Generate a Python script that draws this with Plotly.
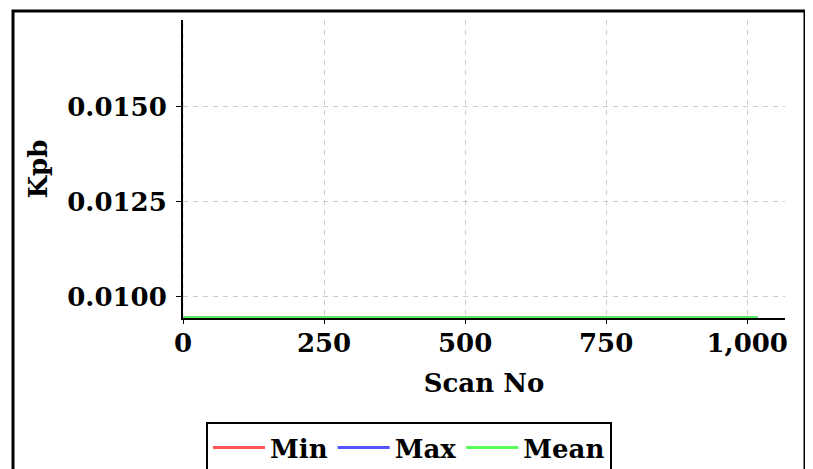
import plotly.graph_objects as go

scan_no = [0, 1018]
kpb_min = [0.00945, 0.00945]
kpb_max = [0.00945, 0.00945]
kpb_mean = [0.00945, 0.00945]

FONT = "DejaVu Serif"
FS = 26
W, H = 805, 461
L, R, T, B = 175, 28, 12, 151
pw, ph = W - L - R, H - T - B
GRID = "#cccccc"
DASH = "5px,5px"

def px(fx):
    return (fx - L) / pw

def py(fy):
    return (H - B - fy) / ph

fig = go.Figure()
fig.add_trace(go.Scatter(x=scan_no, y=kpb_min, mode="lines", name="Min",
                         line=dict(color="rgb(255,85,85)", width=3)))
fig.add_trace(go.Scatter(x=scan_no, y=kpb_max, mode="lines", name="Max",
                         line=dict(color="rgb(85,85,255)", width=3)))
fig.add_trace(go.Scatter(x=scan_no, y=kpb_mean, mode="lines", name="Mean",
                         line=dict(color="rgb(85,255,85)", width=3)))

fig.add_shape(type="rect", xref="paper", yref="paper",
              x0=px(5), x1=px(797), y0=py(3), y1=py(520),
              line=dict(color="black", width=3), fillcolor="rgba(0,0,0,0)")
# the x=0 gridline drawn over the y axis line
fig.add_shape(type="line", xref="x", yref="paper", x0=0, x1=0, y0=0, y1=1,
              line=dict(color=GRID, width=1, dash=DASH), layer="above")

fig.update_layout(
    width=W, height=H,
    margin=dict(l=L, r=R, t=T, b=B, autoexpand=False),
    paper_bgcolor="white", plot_bgcolor="white",
    font=dict(family=FONT, size=FS, color="black"),
    showlegend=True,
    legend=dict(orientation="h", x=px(401), xanchor="center",
                y=py(414), yanchor="top", itemwidth=52,
                bordercolor="black", borderwidth=2,
                font=dict(family=FONT, size=FS, color="black", weight="bold")),
    xaxis=dict(range=[0, 1067], tickvals=[0, 250, 500, 750, 1000],
               tickformat=",d", showgrid=True, gridcolor=GRID,
               griddash=DASH, gridwidth=1, zeroline=False,
               showline=True, linecolor="black", linewidth=2,
               ticks="outside", ticklen=4, tickcolor="black",
               ticklabelstandoff=-3,
               layer="below traces",
               tickfont=dict(family=FONT, size=FS, weight="bold"),
               title=dict(text="Scan No", standoff=17,
                          font=dict(family=FONT, size=FS, weight="bold"))),
    yaxis=dict(range=[0.009445, 0.01729], tick0=0.01, dtick=0.0025,
               tickformat=".4f", showgrid=True, gridcolor=GRID,
               griddash=DASH, gridwidth=1, zeroline=False,
               showline=True, linecolor="black", linewidth=2,
               ticks="outside", ticklen=5, tickcolor="black",
               ticklabelstandoff=4,
               tickfont=dict(family=FONT, size=FS, weight="bold"),
               title=dict(text="Kpb", standoff=12,
                          font=dict(family=FONT, size=FS, weight="bold"))),
)

fig.write_html("out.html")
